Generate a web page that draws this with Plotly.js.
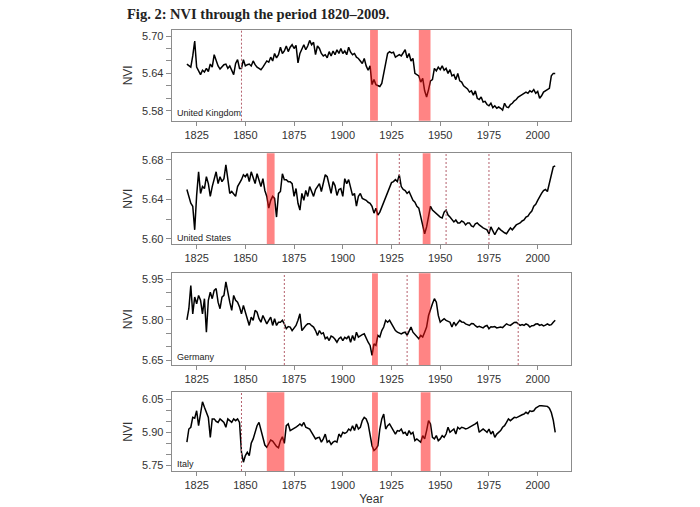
<!DOCTYPE html>
<html>
<head>
<meta charset="utf-8">
<script src="https://cdn.plot.ly/plotly-3.0.1.min.js"></script>
<style>html,body{margin:0;padding:0;background:#fff;}#chart{width:700px;height:507px;}</style>
</head>
<body>
<div id="chart"></div>
<script>
const startYear = 1820;
const countries = ["United Kingdom", "United States", "Germany", "Italy"];

const nviUK = [
5.655,5.652,5.650,5.668,5.692,5.650,5.645,5.638,5.645,5.642,
5.648,5.643,5.655,5.650,5.670,5.660,5.652,5.647,5.650,5.654,
5.655,5.648,5.652,5.646,5.638,5.656,5.662,5.648,5.648,5.662,
5.652,5.654,5.655,5.652,5.660,5.654,5.650,5.648,5.646,5.650,
5.655,5.660,5.658,5.666,5.660,5.672,5.665,5.670,5.682,5.672,
5.676,5.684,5.675,5.682,5.686,5.680,5.685,5.657,5.672,5.680,
5.686,5.678,5.684,5.693,5.686,5.690,5.670,5.684,5.680,5.672,
5.668,5.670,5.665,5.675,5.668,5.676,5.670,5.678,5.672,5.680,
5.672,5.676,5.670,5.682,5.674,5.670,5.672,5.666,5.664,5.660,
5.656,5.664,5.652,5.645,5.652,5.622,5.630,5.622,5.620,5.619,
5.624,5.640,5.660,5.672,5.675,5.673,5.674,5.666,5.668,5.670,
5.668,5.674,5.678,5.665,5.672,5.660,5.664,5.640,5.638,5.636,
5.626,5.632,5.612,5.602,5.614,5.628,5.630,5.648,5.644,5.650,
5.646,5.652,5.645,5.648,5.640,5.646,5.636,5.638,5.630,5.640,
5.628,5.626,5.620,5.617,5.615,5.610,5.612,5.605,5.612,5.600,
5.598,5.602,5.594,5.595,5.590,5.588,5.592,5.585,5.588,5.584,
5.586,5.584,5.581,5.592,5.586,5.585,5.590,5.592,5.596,5.598,
5.602,5.604,5.606,5.608,5.610,5.608,5.612,5.610,5.614,5.608,
5.611,5.600,5.604,5.610,5.612,5.614,5.616,5.636,5.640,5.640];

const nviUS = [
5.650,5.642,5.636,5.633,5.609,5.644,5.668,5.646,5.653,5.651,
5.663,5.656,5.643,5.653,5.661,5.668,5.656,5.663,5.658,5.661,
5.675,5.660,5.646,5.648,5.646,5.643,5.653,5.656,5.660,5.665,
5.663,5.666,5.658,5.668,5.661,5.656,5.666,5.660,5.653,5.661,
5.649,5.643,5.631,5.639,5.643,5.641,5.622,5.646,5.648,5.666,
5.660,5.660,5.658,5.658,5.656,5.643,5.651,5.636,5.629,5.646,
5.639,5.649,5.643,5.653,5.648,5.643,5.650,5.653,5.656,5.648,
5.658,5.665,5.663,5.655,5.646,5.658,5.654,5.644,5.650,5.651,
5.643,5.661,5.656,5.660,5.651,5.644,5.646,5.633,5.643,5.646,
5.641,5.640,5.639,5.637,5.636,5.633,5.626,5.631,5.624,5.627,
5.632,5.636,5.642,5.646,5.653,5.657,5.658,5.660,5.658,5.665,
5.653,5.650,5.649,5.646,5.648,5.643,5.639,5.637,5.633,5.631,
5.622,5.614,5.605,5.612,5.622,5.633,5.629,5.627,5.625,5.624,
5.622,5.621,5.627,5.629,5.624,5.622,5.620,5.617,5.619,5.616,
5.616,5.618,5.617,5.614,5.616,5.616,5.613,5.612,5.615,5.616,
5.614,5.612,5.611,5.610,5.609,5.605,5.612,5.608,5.604,5.608,
5.611,5.609,5.607,5.606,5.605,5.608,5.611,5.609,5.612,5.614,
5.615,5.616,5.618,5.619,5.622,5.623,5.626,5.628,5.633,5.635,
5.639,5.643,5.646,5.649,5.650,5.648,5.656,5.666,5.673,5.674];

const nviDE = [
5.800,5.841,5.927,5.822,5.884,5.859,5.890,5.872,5.822,5.878,
5.754,5.872,5.902,5.878,5.909,5.915,5.865,5.841,5.884,5.890,
5.940,5.896,5.865,5.835,5.890,5.872,5.865,5.847,5.822,5.853,
5.828,5.804,5.779,5.810,5.798,5.835,5.828,5.804,5.791,5.816,
5.798,5.785,5.798,5.810,5.779,5.804,5.779,5.791,5.791,5.798,
5.785,5.767,5.775,5.773,5.760,5.770,5.779,5.798,5.822,5.760,
5.770,5.779,5.785,5.785,5.778,5.773,5.760,5.742,5.760,5.748,
5.752,5.730,5.736,5.723,5.740,5.736,5.728,5.717,5.730,5.736,
5.723,5.735,5.730,5.740,5.717,5.742,5.723,5.754,5.736,5.742,
5.745,5.748,5.730,5.717,5.705,5.668,5.711,5.705,5.742,5.736,
5.760,5.773,5.798,5.791,5.798,5.785,5.773,5.760,5.754,5.750,
5.748,5.752,5.754,5.742,5.760,5.773,5.754,5.745,5.736,5.730,
5.742,5.736,5.754,5.773,5.816,5.841,5.859,5.878,5.865,5.816,
5.791,5.798,5.804,5.798,5.795,5.791,5.773,5.791,5.779,5.790,
5.798,5.792,5.791,5.785,5.782,5.779,5.786,5.785,5.778,5.773,
5.776,5.772,5.770,5.776,5.779,5.767,5.774,5.773,5.775,5.770,
5.773,5.773,5.771,5.780,5.785,5.781,5.779,5.785,5.790,5.791,
5.785,5.779,5.782,5.779,5.785,5.781,5.773,5.778,5.779,5.784,
5.785,5.779,5.782,5.777,5.780,5.785,5.780,5.782,5.791,5.798];

const nviIT = [
5.855,5.915,5.923,5.968,5.964,5.998,5.930,5.976,6.039,6.014,
5.991,5.968,5.877,5.961,5.961,5.950,5.945,5.961,5.953,5.945,
5.923,5.961,5.953,5.945,5.961,5.953,5.961,5.945,5.809,5.764,
5.794,5.809,5.794,5.850,5.870,5.900,5.930,5.945,5.908,5.880,
5.842,5.832,5.850,5.865,5.860,5.845,5.836,5.830,5.862,5.880,
5.850,5.930,5.938,5.908,5.912,5.918,5.923,5.930,5.938,5.930,
5.945,5.923,5.920,5.915,5.900,5.885,5.870,5.875,5.877,5.855,
5.870,5.892,5.855,5.862,5.845,5.855,5.860,5.855,5.892,5.880,
5.900,5.895,5.900,5.915,5.908,5.930,5.908,5.938,5.915,5.923,
5.953,5.968,5.961,5.938,5.885,5.839,5.817,5.825,5.839,5.915,
5.961,5.983,5.915,5.930,5.938,5.923,5.910,5.892,5.908,5.905,
5.915,5.895,5.900,5.885,5.908,5.892,5.900,5.862,5.870,5.862,
5.855,5.885,5.870,5.908,5.953,5.938,5.877,5.870,5.885,5.862,
5.870,5.885,5.877,5.892,5.923,5.900,5.908,5.915,5.892,5.923,
5.915,5.923,5.920,5.915,5.918,5.923,5.928,5.930,5.938,5.945,
5.900,5.908,5.915,5.908,5.900,5.915,5.892,5.905,5.877,5.892,
5.900,5.908,5.923,5.930,5.945,5.961,5.953,5.961,5.968,5.966,
5.972,5.976,5.980,5.983,5.991,5.985,5.998,5.995,5.998,6.010,
6.014,6.021,6.021,6.021,6.020,6.018,6.010,5.990,5.955,5.900];

// Shaded periods (start, end) and dashed event years
const bandsUK = [[1914,1918],[1939,1945]];
const dashedUK = [1848];
const bandsUS = [[1861,1865],[1917,1918],[1941,1945]];
const dashedUS = [1929,1953,1975];
const bandsDE = [[1915,1918],[1939,1945]];
const dashedDE = [1870,1933,1990];
const bandsIT = [[1861,1870],[1915,1918],[1940,1945]];
const dashedIT = [1848];

const yTickVals = [[5.58,5.64,5.70],[5.60,5.64,5.68],[5.65,5.80,5.95],[5.75,5.90,6.05]];
const yTickText = [["5.58","5.64","5.70"],["5.60","5.64","5.68"],["5.65","5.80","5.95"],["5.75","5.90","6.05"]];
const xTickVals = [1825,1850,1875,1900,1925,1950,1975,2000];

const series = [nviUK, nviUS, nviDE, nviIT];
const bands = [bandsUK, bandsUS, bandsDE, bandsIT];
const dashed = [dashedUK, dashedUS, dashedDE, dashedIT];

const years = [];
for (let i = 0; i < nviUK.length; i++) years.push(startYear + i);

// layout geometry (pixels)
const W = 700, H = 507;
const xLeft = 171.7, xRight = 571;
const panelPx = [[30,120.7],[153.3,244],[273.3,365],[392.3,471]];
const yRanges = [[5.564,5.7097],[5.5946,5.6868],[5.6326,5.972],[5.724,6.082]];
const minorD = [0.02,0.02,0.05,0.05];
const labelY = [0.09,0.07,0.09,0.085];

const axColor = '#8c8c8c';
const tickFont = {family:'Liberation Sans, Arial, sans-serif', size:11, color:'#333'};

const traces = [];
const shapes = [];
const annotations = [];
const layout = {
  width: W, height: H,
  margin: {l:0, r:0, t:0, b:0},
  paper_bgcolor: '#fff', plot_bgcolor: '#fff',
  showlegend: false,
  title: {text: 'Fig. 2: NVI through the period 1820–2009.', x: 127/W, xanchor: 'left', xref: 'container',
          y: 1 - 13.5/H, yanchor: 'middle', yref: 'container',
          font: {family: 'Liberation Serif, Times New Roman, serif', size: 14.5, color: '#222', weight: 'bold'}},
  shapes: shapes, annotations: annotations
};

for (let k = 0; k < 4; k++) {
  const sfx = k === 0 ? '' : String(k + 1);
  const xa = 'x' + sfx, ya = 'y' + sfx;
  traces.push({x: years, y: series[k], type: 'scatter', mode: 'lines', name: countries[k],
               xaxis: xa, yaxis: ya, line: {color: '#000', width: 1.5}, hoverinfo: 'x+y'});
  layout['xaxis' + sfx] = {
    domain: [xLeft / W, xRight / W], anchor: ya, range: [1812.2, 2017.1],
    tickvals: xTickVals, ticks: 'outside', ticklen: 4, tickcolor: axColor, tickfont: tickFont,
    showline: true, linecolor: axColor, linewidth: 1, mirror: true, showgrid: false, zeroline: false,
    title: k === 3 ? {text: 'Year', font: {family: 'Liberation Sans, Arial, sans-serif', size: 12, color: '#333'}, standoff: 4} : {text: ''}
  };
  layout['yaxis' + sfx] = {
    domain: [1 - panelPx[k][1] / H, 1 - panelPx[k][0] / H], anchor: xa, range: yRanges[k],
    tickvals: yTickVals[k], ticktext: yTickText[k], ticks: 'outside', ticklen: 5, tickcolor: axColor,
    tickfont: tickFont,
    minor: {dtick: minorD[k], tick0: yTickVals[k][0], ticks: 'outside', ticklen: 5, tickcolor: axColor, showgrid: false},
    showline: true, linecolor: axColor, linewidth: 1, mirror: true, showgrid: false, zeroline: false,
    title: {text: 'NVI', font: {family: 'Liberation Sans, Arial, sans-serif', size: 12, color: '#333'}, standoff: 6}
  };
  bands[k].forEach(b => shapes.push({type: 'rect', xref: xa, yref: ya + ' domain', x0: b[0], x1: b[1], y0: 0, y1: 1,
    fillcolor: 'rgba(255,20,20,0.52)', line: {width: 0}, layer: 'above'}));
  dashed[k].forEach(d => shapes.push({type: 'line', xref: xa, yref: ya + ' domain', x0: d, x1: d, y0: 0, y1: 1,
    line: {color: '#b4606c', width: 1, dash: '2px,2px'}, layer: 'above'}));
  annotations.push({text: countries[k], xref: xa + ' domain', yref: ya + ' domain', x: 0.008, y: labelY[k],
    xanchor: 'left', yanchor: 'middle', showarrow: false,
    font: {family: 'Liberation Sans, Arial, sans-serif', size: 9, color: '#222'}});
}

Plotly.newPlot('chart', traces, layout, {displayModeBar: false, staticPlot: true});
</script>
</body>
</html>
